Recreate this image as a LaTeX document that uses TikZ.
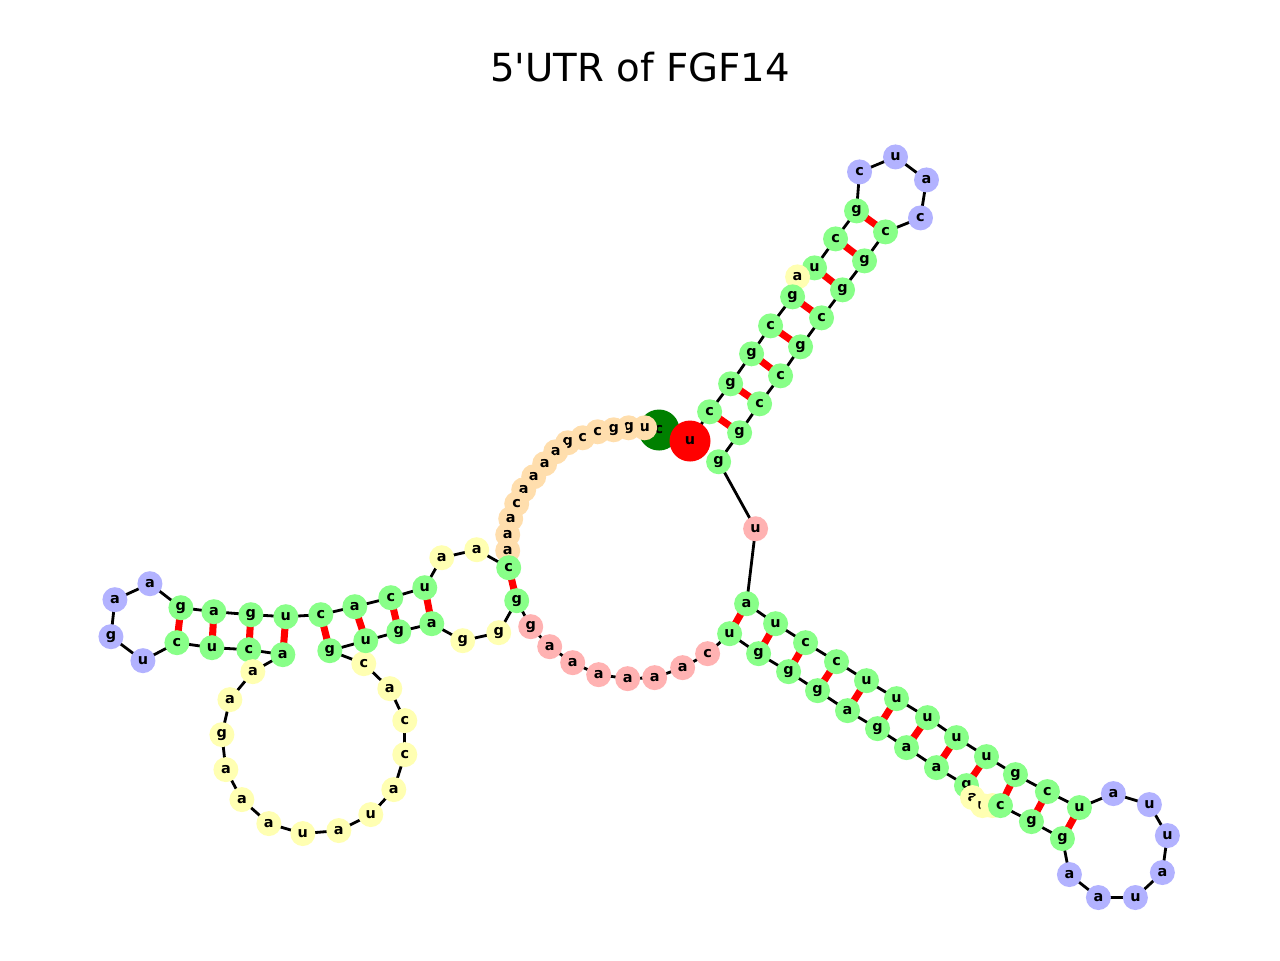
\documentclass[tikz,border=0pt]{standalone}
\usepackage{fontspec}
\setmainfont{DejaVu Sans}
\usetikzlibrary{backgrounds}
\definecolor{gr}{RGB}{136,255,136}
\definecolor{bl}{RGB}{178,178,255}
\definecolor{ye}{RGB}{255,255,178}
\definecolor{or}{RGB}{255,222,173}
\definecolor{pk}{RGB}{255,178,178}
\definecolor{dg}{RGB}{0,128,0}
\definecolor{rd}{RGB}{255,0,0}
\tikzset{
  nt/.style={circle, inner sep=0pt, minimum size=0.25cm, font=\fontsize{4.1}{4.5}\selectfont\bfseries},
  ntbig/.style={nt, minimum size=0.41cm},
  bb/.style={black, line width=0.8pt},
  bp/.style={rd, line width=2pt}
}
\begin{document}
\begin{tikzpicture}
\useasboundingbox (0,0) rectangle (12.8,-9.6);
\node (title) at (6.4,-0.67) {\fontsize{11}{13}\selectfont 5\textquotesingle UTR of FGF14};
% 5' end
\node[ntbig, fill=dg] (n1) at (6.59,-4.30) {c};
% nucleotides in sequence order
\foreach \i/\l/\x/\y/\c in {
 2/u/645/428/or, 3/g/629/428/or, 4/g/614/430/or, 5/c/598/432/or, 6/c/583/438/or,
 7/g/568/443/or, 8/a/556/452/or, 9/a/545/464/or, 10/a/534/477/or, 11/a/524/490/or,
 12/c/517/504/or, 13/a/511/519/or, 14/a/508/535/or, 15/a/508/551/or, 16/c/509/568/gr,
 17/a/477/550/ye, 18/a/442/558/ye, 19/u/425/588/gr, 20/c/391/598/gr, 21/a/355/607/gr,
 22/c/321/615/gr, 23/u/286/617/gr, 24/g/251/615/gr, 25/a/214/612/gr, 26/g/181/608/gr,
 27/a/150/584/bl, 28/a/115/600/bl, 29/g/111/637/bl, 30/u/143/661/bl, 31/c/177/643/gr,
 32/u/212/648/gr, 33/c/249/650/gr, 34/a/283/655/gr, 35/a/253/672/ye, 36/a/230/700/ye,
 37/g/222/735/ye, 38/a/226/770/ye, 39/a/242/800/ye, 40/a/269/824/ye, 41/u/303/834/ye,
 42/a/339/831/ye, 43/u/371/815/ye, 44/a/394/790/ye, 45/c/405/755/ye, 46/c/405/721/ye,
 47/a/390/689/ye, 48/c/364/664/ye, 49/g/330/651/gr, 50/u/366/641/gr, 51/g/399/632/gr,
 52/a/432/624/gr, 53/g/463/641/ye, 54/g/499/633/ye, 55/g/517/601/gr, 56/g/531/627/pk,
 57/a/550/647/pk, 58/a/573/663/pk, 59/a/599/675/pk, 60/a/628/679/pk, 61/a/655/678/pk,
 62/a/683/668/pk, 63/c/708/654/pk, 64/u/730/634/gr, 65/g/759/654/gr, 66/g/789/672/gr,
 67/g/818/691/gr, 68/a/848/711/gr, 69/g/878/729/gr, 70/a/907/748/gr, 71/a/937/768/gr,
 72/g/967/786/gr, 73/a/973/798/ye, 74/u/983/806/ye, 75/c/993/806/ye, 76/c/1001/806/gr,
 77/g/1032/822/gr, 78/g/1063/839/gr, 79/a/1070/875/bl, 80/a/1099/898/bl, 81/u/1136/898/bl,
 82/a/1163/873/bl, 83/u/1168/836/bl, 84/u/1150/805/bl, 85/a/1114/794/bl, 86/u/1080/808/gr,
 87/c/1048/792/gr, 88/g/1016/775/gr, 89/u/987/757/gr, 90/u/957/738/gr, 91/u/928/718/gr,
 92/u/897/699/gr, 93/u/867/681/gr, 94/c/837/662/gr, 95/c/806/643/gr, 96/u/776/624/gr,
 97/a/747/604/gr, 98/u/756/529/pk, 99/g/719/462/gr, 100/g/740/433/gr, 101/c/760/404/gr,
 102/c/781/376/gr, 103/g/801/347/gr, 104/c/822/318/gr, 105/g/843/290/gr, 106/g/865/261/gr,
 107/c/886/232/gr, 108/c/921/218/bl, 109/a/927/180/bl, 110/u/896/157/bl, 111/c/860/172/bl,
 112/g/857/211/gr, 113/c/836/239/gr, 114/u/815/268/gr, 115/a/798/277/ye, 116/g/793/297/gr,
 117/c/771/326/gr, 118/g/752/354/gr, 119/g/731/384/gr, 120/c/710/412/gr}
  \node[nt, fill=\c] (n\i) at (\x*0.01,-\y*0.01) {\l};
% 3' end
\node[ntbig, fill=rd] (n121) at (6.90,-4.41) {u};
\begin{scope}[on background layer]
  % backbone
  \foreach \i [evaluate=\i as \j using int(\i+1)] in {1,...,120}
    \draw[bb] (n\i.center) -- (n\j.center);
  % base pairs
  \foreach \a/\b in {16/55, 19/52, 20/51, 21/50, 22/49, 23/34, 24/33, 25/32, 26/31,
    64/97, 65/96, 66/95, 67/94, 68/93, 69/92, 70/91, 71/90, 72/89, 76/88, 77/87, 78/86,
    100/120, 101/119, 102/118, 103/117, 104/116, 105/114, 106/113, 107/112}
    \draw[bp] (n\a.center) -- (n\b.center);
\end{scope}
\end{tikzpicture}
\end{document}
